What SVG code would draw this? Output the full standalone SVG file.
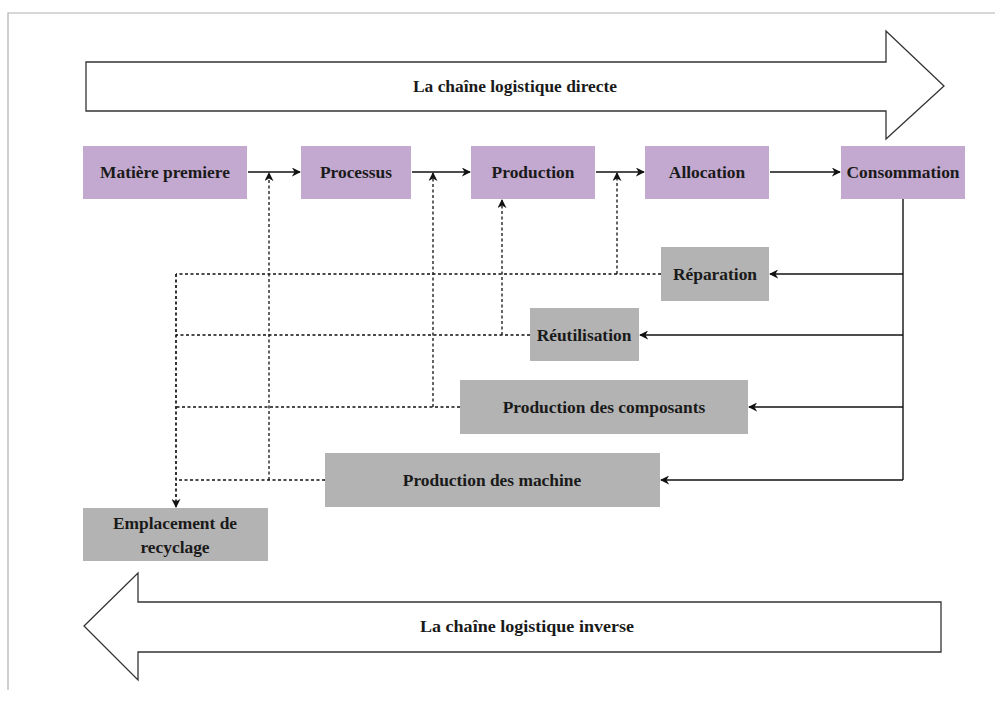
<svg xmlns="http://www.w3.org/2000/svg" width="995" height="702" viewBox="0 0 995 702">
<defs>
<style>
.frame{stroke:#b0b0b0;stroke-width:1.2;fill:none}
.big{fill:#fff;stroke:#333;stroke-width:1.3}
.p{fill:#c3a9cf}
.g{fill:#b3b3b3}
.t{font-family:"Liberation Serif","Times New Roman",serif;font-weight:bold;font-size:17.4px;fill:#1a1a1a;text-anchor:middle}
.a{font-size:17.5px}
.s{stroke:#111;stroke-width:1.4;fill:none}
.d{stroke:#111;stroke-width:1.3;fill:none;stroke-dasharray:3 2.5}
</style>
<marker id="ah" viewBox="0 0 10 10" refX="9" refY="5" markerWidth="9" markerHeight="9" markerUnits="userSpaceOnUse" orient="auto">
<path d="M0,0 L10,5 L0,10 L3,5 z" fill="#111"/>
</marker>
</defs>
<rect width="995" height="702" fill="#fff"/>
<path class="frame" d="M8,690 L8,13 L995,13"/>

<g id="arrow-direct">
<path class="big" d="M86,62 L886,62 L886,31 L944,86 L886,139 L886,111 L86,111 Z"/>
<text class="t a" x="515" y="92" textLength="204" lengthAdjust="spacingAndGlyphs">La chaîne logistique directe</text>
</g>
<g id="arrow-inverse">
<path class="big" d="M941,602 L138,602 L138,573 L84,626 L138,680 L138,652 L941,652 Z"/>
<text class="t a" x="527" y="632" textLength="214" lengthAdjust="spacingAndGlyphs">La chaîne logistique inverse</text>
</g>

<g id="connectors">
<path class="s" d="M248,172 L300,172" marker-end="url(#ah)"/>
<path class="s" d="M412,172 L470,172" marker-end="url(#ah)"/>
<path class="s" d="M596,172 L644,172" marker-end="url(#ah)"/>
<path class="s" d="M770,172 L840,172" marker-end="url(#ah)"/>
<path class="s" d="M903,199 L903,480"/>
<path class="s" d="M903,274 L770,274" marker-end="url(#ah)"/>
<path class="s" d="M903,335 L640,335" marker-end="url(#ah)"/>
<path class="s" d="M903,407 L749,407" marker-end="url(#ah)"/>
<path class="s" d="M903,480 L661,480" marker-end="url(#ah)"/>
<path class="d" d="M661,274 L176,274"/>
<path class="d" d="M530,335 L176,335"/>
<path class="d" d="M460,407 L176,407"/>
<path class="d" d="M325,480 L176,480"/>
<path class="d" d="M617,274 L617,173" marker-end="url(#ah)"/>
<path class="d" d="M502,335 L502,200" marker-end="url(#ah)"/>
<path class="d" d="M433,407 L433,173" marker-end="url(#ah)"/>
<path class="d" d="M269,480 L269,173" marker-end="url(#ah)"/>
<path class="d" d="M176,274 L176,507" marker-end="url(#ah)" style="stroke-width:1.7"/>
</g>

<g id="matiere"><rect class="p" x="83" y="146" width="164" height="53"/><text class="t" x="165" y="178">Matière premiere</text></g>
<g id="processus"><rect class="p" x="301" y="146" width="110" height="53"/><text class="t" x="356" y="178">Processus</text></g>
<g id="production"><rect class="p" x="471" y="146" width="124" height="53"/><text class="t" x="533" y="178">Production</text></g>
<g id="allocation"><rect class="p" x="645" y="146" width="124" height="53"/><text class="t" x="707" y="178">Allocation</text></g>
<g id="consommation"><rect class="p" x="841" y="146" width="124" height="53"/><text class="t" x="903" y="178">Consommation</text></g>

<g id="reparation"><rect class="g" x="661" y="247" width="108" height="54"/><text class="t" x="715" y="280">Réparation</text></g>
<g id="reutilisation"><rect class="g" x="530" y="308" width="109" height="53"/><text class="t" x="584" y="341">Réutilisation</text></g>
<g id="composants"><rect class="g" x="460" y="380" width="288" height="54"/><text class="t" x="604" y="413">Production des composants</text></g>
<g id="machine"><rect class="g" x="325" y="453" width="335" height="54"/><text class="t" x="492" y="486">Production des machine</text></g>
<g id="recyclage"><rect class="g" x="83" y="508" width="185" height="53"/><text class="t" x="175" y="529">Emplacement de</text><text class="t" x="175" y="553">recyclage</text></g>
</svg>
